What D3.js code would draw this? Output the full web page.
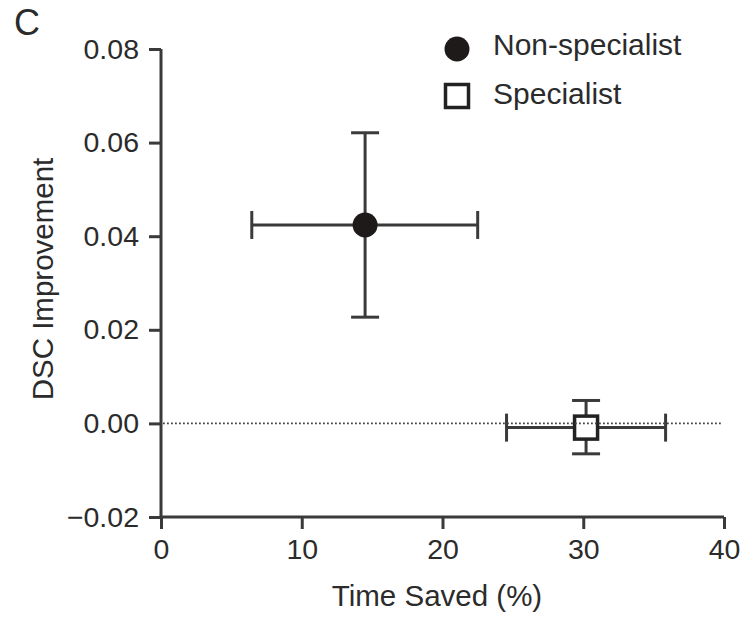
<!DOCTYPE html>
<html>
<head>
<meta charset="utf-8">
<script src="https://cdn.jsdelivr.net/npm/d3@7"></script>
<style>
  html, body { margin: 0; padding: 0; background: #fff; }
  svg { display: block; font-family: "Liberation Sans", Arial, Helvetica, sans-serif; }
</style>
</head>
<body>
<svg id="chart" width="750" height="621"></svg>
<script>
// ---- data ----
const groups = ["Non-specialist", "Specialist"];
const timeSaved = [14.5, 30.2];
const timeLow = [6.45, 24.55];
const timeHigh = [22.5, 35.85];
const dscImprovement = [0.0424, -0.0009];
const dscLow = [0.0227, -0.0065];
const dscHigh = [0.0621, 0.0049];
const xTicks = [0, 10, 20, 30, 40];
const yTicks = [-0.02, 0, 0.02, 0.04, 0.06, 0.08];
const panelLabel = "C";
const xTitle = "Time Saved (%)";
const yTitle = "DSC Improvement";

// ---- layout ----
const svg = d3.select("#chart");
const ink = "#2b2b2b";
const axisInk = "#3a3a3a";
const tickFs = 28.5;
const titleFs = 29.5;
const legFs = 30;

const x = d3.scaleLinear().domain([0, 40]).range([161, 724]);
const y = d3.scaleLinear().domain([-0.02, 0.08]).range([517, 49]);

// axes
const xAxis = svg.append("g").attr("transform", `translate(0,${y(-0.02)})`)
  .call(d3.axisBottom(x).tickValues(xTicks).tickFormat(d3.format("d")).tickSizeOuter(0).tickSize(12).tickPadding(10));
const yAxis = svg.append("g").attr("transform", `translate(${x(0)},0)`)
  .call(d3.axisLeft(y).tickValues(yTicks).tickFormat(d3.format(".2f")).tickSizeOuter(0).tickSize(12).tickPadding(10));
[xAxis, yAxis].forEach(g => {
  g.select(".domain").attr("stroke", axisInk).attr("stroke-width", 3);
  g.selectAll(".tick line").attr("stroke", axisInk).attr("stroke-width", 3);
  g.selectAll(".tick text").attr("fill", ink).attr("font-size", tickFs)
    .attr("font-family", "'Liberation Sans', Arial, sans-serif");
});
// axis lines meet at the corner
yAxis.select(".domain").attr("d", `M0,${y(0.08)}V${y(-0.02) + 1.5}`);
xAxis.select(".domain").attr("d", `M${x(0) - 1.5},0H${x(40)}`);

// axis titles
svg.append("text").attr("x", 437).attr("y", 606)
  .attr("text-anchor", "middle").attr("font-size", titleFs).attr("fill", ink).text(xTitle);
svg.append("text").attr("transform", `translate(53,${279}) rotate(-90)`)
  .attr("text-anchor", "middle").attr("font-size", titleFs).attr("fill", ink).text(yTitle);

// panel label
svg.append("text").attr("x", 14).attr("y", 35).attr("font-size", 36).attr("fill", ink).text(panelLabel);

// error bars
const cap = 14;
const data = groups.map((g, i) => ({ g, i, x: timeSaved[i], xl: timeLow[i], xh: timeHigh[i], y: dscImprovement[i], yl: dscLow[i], yh: dscHigh[i] }));
const eb = svg.append("g").attr("stroke", axisInk).attr("stroke-width", 3).attr("fill", "none");
data.forEach(d => {
  eb.append("line").attr("x1", x(d.xl)).attr("x2", x(d.xh)).attr("y1", y(d.y)).attr("y2", y(d.y));
  eb.append("line").attr("x1", x(d.x)).attr("x2", x(d.x)).attr("y1", y(d.yl)).attr("y2", y(d.yh));
  eb.append("line").attr("x1", x(d.xl)).attr("x2", x(d.xl)).attr("y1", y(d.y) - cap).attr("y2", y(d.y) + cap);
  eb.append("line").attr("x1", x(d.xh)).attr("x2", x(d.xh)).attr("y1", y(d.y) - cap).attr("y2", y(d.y) + cap);
  eb.append("line").attr("x1", x(d.x) - cap).attr("x2", x(d.x) + cap).attr("y1", y(d.yl)).attr("y2", y(d.yl));
  eb.append("line").attr("x1", x(d.x) - cap).attr("x2", x(d.x) + cap).attr("y1", y(d.yh)).attr("y2", y(d.yh));
});

// markers
const sq = 23;
svg.append("circle").attr("cx", x(data[0].x)).attr("cy", y(data[0].y)).attr("r", 12.5).attr("fill", "#1e1a1a");
svg.append("rect").attr("x", x(data[1].x) - sq / 2).attr("y", y(data[1].y) - sq / 2)
  .attr("width", sq).attr("height", sq).attr("fill", "#fff").attr("stroke", "#222").attr("stroke-width", 3.5);

// zero reference line (dotted)
svg.append("line").attr("x1", x(0) + 2).attr("x2", 722).attr("y1", y(0)).attr("y2", y(0))
  .attr("stroke", "#444").attr("stroke-width", 1.8).attr("stroke-dasharray", "1.8,2.2");

// legend
const leg = svg.append("g");
leg.append("circle").attr("cx", 457).attr("cy", 49).attr("r", 12.5).attr("fill", "#1e1a1a");
leg.append("rect").attr("x", 457 - sq / 2).attr("y", 96 - sq / 2).attr("width", sq).attr("height", sq)
  .attr("fill", "#fff").attr("stroke", "#222").attr("stroke-width", 3.5);
leg.append("text").attr("x", 493).attr("y", 55).attr("font-size", legFs).attr("fill", ink).text(groups[0]);
leg.append("text").attr("x", 493).attr("y", 104).attr("font-size", legFs).attr("fill", ink).text(groups[1]);
</script>
</body>
</html>
